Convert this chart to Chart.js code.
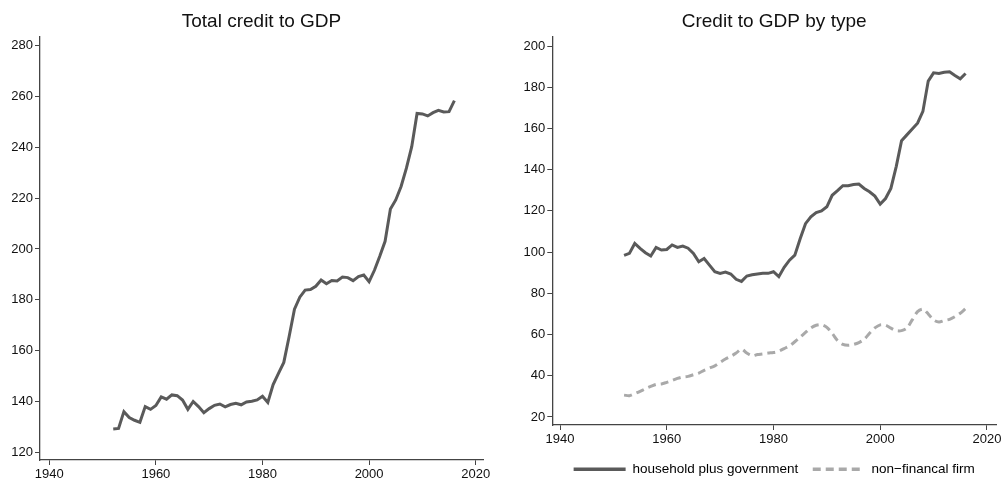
<!DOCTYPE html>
<html>
<head>
<meta charset="utf-8">
<script src="https://cdn.jsdelivr.net/npm/chart.js@4"></script>
<style>
  html, body { margin: 0; padding: 0; background: #fff; overflow: hidden; }
  #wrap { position: relative; width: 1003px; height: 478px; overflow: hidden; }
  #izq { position: absolute; left: 0; top: 0; width: 500px; height: 478px; }
  #der { position: absolute; left: 500px; top: 0; width: 510px; height: 486px; }
</style>
</head>
<body>
<div id="wrap">
  <div id="izq"><canvas id="graficoTotal"></canvas></div>
  <div id="der"><canvas id="graficoTipo"></canvas></div>
</div>
<script>
const anios = [];
for (let a = 1952; a <= 2016; a++) anios.push(a);

const creditoTotal = [
  129.1, 129.3, 135.9, 133.6, 132.5, 131.7, 137.9, 136.8, 138.3, 141.7,
  140.8, 142.5, 142.2, 140.5, 136.8, 139.9, 137.9, 135.5, 137.1, 138.4,
  138.9, 137.8, 138.7, 139.2, 138.6, 139.7, 140.0, 140.5, 142.0, 139.5,
  146.6, 151.0, 155.3, 165.5, 176.3, 181.0, 183.8, 184.0, 185.3, 187.8,
  186.3, 187.6, 187.4, 188.9, 188.7, 187.5, 189.1, 189.7, 187.1, 191.6,
  197.1, 203.0, 215.7, 219.3, 224.6, 231.8, 240.3, 253.4, 253.2, 252.4,
  253.7, 254.6, 254.0, 254.1, 258.4
];

const hogarGobierno = [
  98.4, 99.4, 104.2, 101.8, 99.7, 98.1, 102.3, 101.0, 101.3, 103.5,
  102.3, 102.9, 101.9, 99.4, 95.3, 96.9, 93.7, 90.5, 89.7, 90.3,
  89.4, 86.8, 85.8, 88.4, 89.0, 89.4, 89.7, 89.7, 90.5, 88.1,
  92.6, 96.1, 98.5, 106.5, 113.8, 117.1, 119.2, 120.0, 122.0, 127.6,
  129.8, 132.2, 132.2, 132.8, 133.0, 130.9, 129.3, 127.2, 123.3, 126.0,
  130.9, 141.5, 154.1, 156.9, 159.7, 162.6, 168.3, 183.0, 187.0, 186.7,
  187.3, 187.5, 185.7, 184.1, 186.7
];

const empresas = [
  30.6, 30.3, 31.3, 32.4, 33.7, 34.8, 35.8, 36.0, 36.8, 37.7,
  38.7, 39.4, 39.7, 40.5, 41.3, 42.6, 43.7, 44.8, 46.5, 48.1,
  49.4, 51.0, 52.9, 51.0, 49.7, 50.3, 50.6, 51.0, 51.3, 51.9,
  53.2, 54.5, 56.5, 58.7, 61.0, 63.2, 64.5, 64.8, 63.5, 60.6,
  57.1, 55.2, 54.8, 55.2, 56.1, 57.7, 60.6, 63.2, 64.7, 64.5,
  63.1, 61.9, 61.9, 63.1, 67.1, 71.1, 72.3, 70.0, 67.1, 66.1,
  66.8, 67.4, 68.7, 70.3, 72.6
];

const ticksX = [1940, 1960, 1980, 2000, 2020];
const ticksYTotal = [120, 140, 160, 180, 200, 220, 240, 260, 280];
const ticksYTipo = [20, 40, 60, 80, 100, 120, 140, 160, 180, 200];

const fuente = "'Liberation Sans', Arial, Helvetica, sans-serif";
const gris = '#5a5a5a';
const grisClaro = '#a9a9a9';

// el alto del eje x fija donde queda la leyenda (las etiquetas se recortan a la caja del eje)
function escalaX(min, max, alto) {
  return {
    type: 'linear', min: min, max: max,
    afterBuildTicks: s => { s.ticks = ticksX.map(v => ({ value: v })); },
    afterFit: s => { s.height = alto; s.paddingLeft = 0; s.paddingRight = 0; },
    grid: { drawOnChartArea: false, drawTicks: true, tickLength: 5, color: '#444', lineWidth: 1 },
    border: { display: true, color: '#444', width: 1.3 },
    ticks: { color: '#111', font: { family: fuente, size: 13 }, padding: 2, maxRotation: 0, callback: v => v }
  };
}

function escalaY(min, max, ticks, ancho) {
  return {
    min: min, max: max,
    afterBuildTicks: s => { s.ticks = ticks.map(v => ({ value: v })); },
    afterFit: s => { s.width = ancho; },
    grid: { drawOnChartArea: false, drawTicks: true, tickLength: 5, color: '#444', lineWidth: 1 },
    border: { display: true, color: '#444', width: 1.3 },
    ticks: { color: '#111', font: { family: fuente, size: 13 }, padding: 2, callback: v => v }
  };
}

function titulo(texto) {
  return {
    display: true, text: texto, color: '#111', fullSize: false,
    font: { family: fuente, size: 19, weight: 'normal' },
    padding: { top: 10, bottom: 4.2 }
  };
}

new Chart(document.getElementById('graficoTotal'), {
  type: 'line',
  data: {
    labels: anios,
    datasets: [{
      label: 'total',
      data: anios.map((a, i) => ({ x: a, y: creditoTotal[i] })),
      borderColor: gris, borderWidth: 3, pointRadius: 0, tension: 0, fill: false
    }]
  },
  options: {
    responsive: true, maintainAspectRatio: false, animation: false,
    layout: { padding: { left: 0, right: 17, top: 0, bottom: 0 } },
    plugins: { legend: { display: false }, tooltip: { enabled: false }, title: titulo('Total credit to GDP') },
    scales: {
      x: escalaX(1938.26, 2021.37, 18),
      y: escalaY(116.85, 283.5, ticksYTotal, 40)
    }
  }
});

new Chart(document.getElementById('graficoTipo'), {
  type: 'line',
  data: {
    labels: anios,
    datasets: [{
      label: 'household plus government',
      data: anios.map((a, i) => ({ x: a, y: hogarGobierno[i] })),
      borderColor: gris, borderWidth: 3, pointRadius: 0, tension: 0, fill: false
    }, {
      label: 'non\u2212financal firm',
      data: anios.map((a, i) => ({ x: a, y: empresas[i] })),
      borderColor: grisClaro, borderWidth: 3, borderDash: [8, 5], pointRadius: 0, tension: 0.3, fill: false
    }]
  },
  options: {
    responsive: true, maintainAspectRatio: false, animation: false,
    layout: { padding: { left: 0, right: 14, top: 0, bottom: 0 } },
    plugins: {
      tooltip: { enabled: false },
      title: titulo('Credit to GDP by type'),
      legend: {
        position: 'bottom', fullSize: false,
        labels: {
          usePointStyle: true, pointStyleWidth: 52,
          padding: 14.5, color: '#111',
          font: { family: fuente, size: 13.5 },
          generateLabels: chart => chart.data.datasets.map((ds, i) => ({
            text: ds.label,
            strokeStyle: ds.borderColor,
            fillStyle: ds.borderColor,
            lineWidth: 3.5,
            lineDash: ds.borderDash || [],
            pointStyle: 'line',
            hidden: false,
            datasetIndex: i
          }))
        }
      }
    },
    scales: {
      x: escalaX(1938.55, 2021.7, 23),
      y: escalaY(16.1, 204.4, ticksYTipo, 52.3)
    }
  }
});
</script>
</body>
</html>
